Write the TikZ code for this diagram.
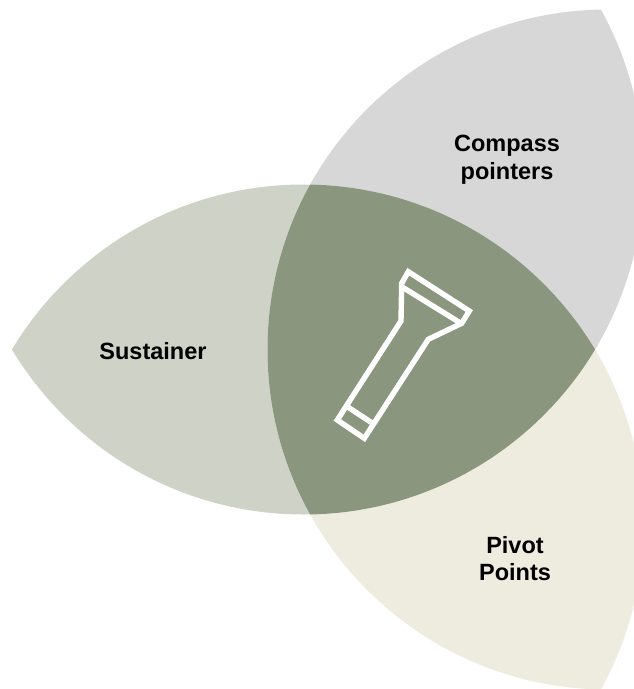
\documentclass[tikz,border=0pt]{standalone}
\usepackage{fontspec}
\setmainfont{Liberation Sans}
\tikzset{
  lbl/.style={font=\fontsize{23.5}{27.5}\selectfont\bfseries, text=black, inner sep=0pt, align=center, anchor=center},
  torch/.style={draw=white, line width=5.4pt, line join=miter, fill=none}
}
\definecolor{cSust}{HTML}{CFD2C6}
\definecolor{cComp}{HTML}{D7D7D7}
\definecolor{cPivot}{HTML}{EEEBDF}
\definecolor{cCore}{HTML}{8A967D}
\begin{document}
\begin{tikzpicture}[x=1pt,y=-1pt]
\useasboundingbox (0,0) rectangle (634,689);
\clip (0,0) rectangle (634,689);
\def\Ca{(607.5,349.5) circle (340)}
\def\Cb{(303.5,174.5) circle (340)}
\def\Cc{(303.5,524.5) circle (340)}
\begin{scope}\clip \Cb; \fill[cSust] \Cc; \end{scope}
\begin{scope}\clip \Ca; \fill[cComp] \Cb; \end{scope}
\begin{scope}\clip \Ca; \fill[cPivot] \Cc; \end{scope}
\begin{scope}\clip \Ca; \clip \Cb; \fill[cCore] \Cc; \end{scope}
\draw[torch] (408.3,271.7) -- (469.3,311) -- (461.7,323.3) -- (428.3,339.3) -- (364.3,438.3) -- (337.3,420) -- (401,321) -- (401.7,283.3) -- cycle;
\draw[torch] (401.7,286.7) -- (460,322.7);
\draw[torch] (348.3,407.3) -- (371.7,422.7);
\node[lbl] (sust) at (153,351) {Sustainer};
\node[lbl] (comp) at (507,159.7) {Compass\\pointers};
\node[lbl] (pivot) at (515,558.5) {Pivot\\Points};
\end{tikzpicture}
\end{document}
